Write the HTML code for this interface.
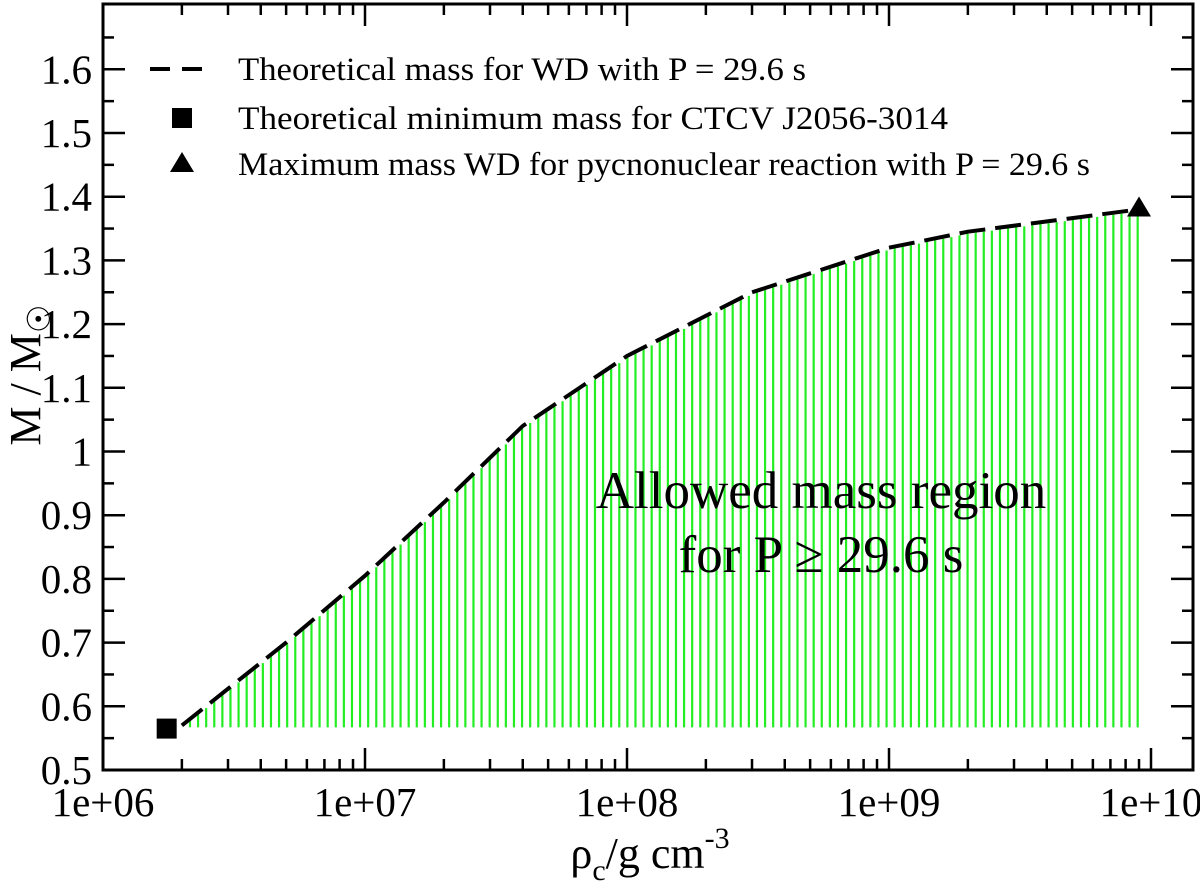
<!DOCTYPE html>
<html><head><meta charset="utf-8"><style>
html,body{margin:0;padding:0;background:#fff;}
svg{display:block;font-family:"Liberation Serif",serif;}
svg text{font-family:"Liberation Serif",serif;}
</style></head><body>
<svg id="chart" width="1200" height="890">
<g id="fill"></g>
<g id="axes"></g>
<path id="curve" fill="none" stroke="#000" stroke-width="4" stroke-dasharray="26,10"/>
<g id="marks"></g>
<g font-size="33">
  <line x1="150" y1="69" x2="213" y2="69" stroke="#000" stroke-width="4" stroke-dasharray="20,12"/>
  <text x="238" y="80" textLength="568" lengthAdjust="spacingAndGlyphs">Theoretical mass for WD with P = 29.6 s</text>
  <rect x="172" y="108" width="20" height="20" fill="#000"/>
  <text x="238" y="129" textLength="710" lengthAdjust="spacingAndGlyphs">Theoretical minimum mass for CTCV J2056-3014</text>
  <polygon points="182,152 170,172 194,172" fill="#000"/>
  <text x="238" y="175" textLength="852" lengthAdjust="spacingAndGlyphs">Maximum mass WD for pycnonuclear reaction with P = 29.6 s</text>
</g>
<text x="821" y="508" font-size="53" text-anchor="middle">Allowed mass region</text>
<text x="821" y="572" font-size="53" text-anchor="middle">for P ≥ 29.6 s</text>
<text x="650" y="868" font-size="44" text-anchor="middle">ρ<tspan font-size="30" dy="12">c</tspan><tspan dy="-12">/g cm</tspan><tspan font-size="30" dy="-20">-3</tspan></text>
<text transform="translate(40,375) rotate(-90)" font-size="44" text-anchor="middle">M / M<tspan font-size="32" dy="10">☉</tspan></text>
</svg>
<script>
const rhoVals=[2e6,5e6,1e7,2e7,4e7,1e8,3e8,1e9,2e9,9e9];
const massVals=[0.57,0.70,0.805,0.92,1.04,1.15,1.25,1.32,1.345,1.38];
const minPoint=[1.75e6,0.565];
const maxPoint=[9e9,1.38];
const xTicks=[1e6,1e7,1e8,1e9,1e10];
const xTickLabels=["1e+06","1e+07","1e+08","1e+09","1e+10"];
const yTicks=[0.5,0.6,0.7,0.8,0.9,1,1.1,1.2,1.3,1.4,1.5,1.6];
const yTickLabels=["0.5","0.6","0.7","0.8","0.9","1","1.1","1.2","1.3","1.4","1.5","1.6"];
const L=103,R=1193,T=4,B=770,DEC=262;
const X=v=>L+DEC*(Math.log10(v)-6);
const Y=v=>B-(v-0.5)*637;
const NS="http://www.w3.org/2000/svg";
function mk(tag,attrs,parent){const e=document.createElementNS(NS,tag);for(const k in attrs)e.setAttribute(k,attrs[k]);parent.appendChild(e);return e;}
let d="";rhoVals.forEach((r,i)=>{d+=(i?"L":"M")+X(r).toFixed(1)+","+Y(massVals[i]).toFixed(1);});
document.getElementById('curve').setAttribute('d',d);
const fill=document.getElementById('fill');
const x0=X(rhoVals[0]),x1=X(rhoVals[rhoVals.length-1]),yb=Y(0.567);
function interpY(px){for(let i=0;i<rhoVals.length-1;i++){const a=X(rhoVals[i]),b=X(rhoVals[i+1]);if(px>=a&&px<=b){const t=(px-a)/(b-a);return Y(massVals[i])+t*(Y(massVals[i+1])-Y(massVals[i]));}}return Y(massVals[massVals.length-1]);}
for(let px=x0;px<=x1+0.1;px+=8.1){
  const ln=mk('line',{x1:px,x2:px,y1:yb,y2:interpY(px)+2,stroke:'#22ee22','stroke-width':2.2},fill);
  
  
}
const ax=document.getElementById('axes');
const fr=mk('rect',{x:L,y:T,width:R-L,height:B-T,fill:'none',stroke:'#000','stroke-width':3},ax);


for(let e=6;e<=10;e++){for(let m=1;m<=9;m++){const v=m*Math.pow(10,e);const px=X(v);if(px>R)break;const len=m===1?22:11;
  mk('line',{x1:px,x2:px,y1:B,y2:B-len,stroke:'#000','stroke-width':2.5},ax);
  mk('line',{x1:px,x2:px,y1:T,y2:T+len,stroke:'#000','stroke-width':2.5},ax);}}
xTicks.forEach((v,i)=>{const t=mk('text',{x:X(v),y:B+46,'font-size':41,'text-anchor':'middle'},ax);t.textContent=xTickLabels[i];
  
  });
yTicks.forEach((v,i)=>{const py=Y(v);
  mk('line',{x1:L,x2:L+22,y1:py,y2:py,stroke:'#000','stroke-width':2.5},ax);
  mk('line',{x1:R,x2:R-22,y1:py,y2:py,stroke:'#000','stroke-width':2.5},ax);
  const pm=Y(v+0.05);
  mk('line',{x1:L,x2:L+11,y1:pm,y2:pm,stroke:'#000','stroke-width':2.5},ax);
  mk('line',{x1:R,x2:R-11,y1:pm,y2:pm,stroke:'#000','stroke-width':2.5},ax);
  const t=mk('text',{x:L-11,y:py+14,'font-size':41,'text-anchor':'end'},ax);t.textContent=yTickLabels[i];
  
  });
const mg=document.getElementById('marks');
const sq=mk('rect',{x:X(minPoint[0])-10,y:Y(minPoint[1])-10,width:20,height:20,fill:'#000'},mg);


const tx=X(maxPoint[0]),ty=Y(maxPoint[1]);
const tr=mk('polygon',{points:`${tx},${ty-13} ${tx-12},${ty+7} ${tx+12},${ty+7}`,fill:'#000'},mg);


</script>
</body></html>
